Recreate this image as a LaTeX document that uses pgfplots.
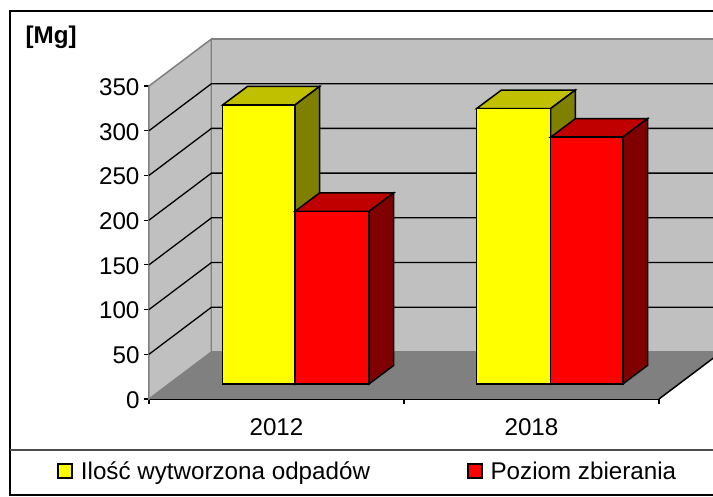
\documentclass[border=0pt]{standalone}
\usepackage{pgfplots}
\pgfplotsset{compat=1.18}
\usepackage{fontspec}
\setmainfont{Liberation Sans}
\definecolor{wall}{HTML}{C0C0C0}
\definecolor{floorgray}{HTML}{808080}
\definecolor{yfront}{HTML}{FFFF00}
\definecolor{ytop}{HTML}{C0C000}
\definecolor{yside}{HTML}{808000}
\definecolor{rfront}{HTML}{FF0000}
\definecolor{rtop}{HTML}{C00000}
\definecolor{rside}{HTML}{800000}
\newcommand{\chartfont}{\fontsize{24.2}{27}\selectfont}

\begin{document}
\begin{tikzpicture}[x=1pt,y=1pt]
\useasboundingbox (0,0) rectangle (713,497);
\clip (0,0) rectangle (713,497);
% frame and legend strip
\draw[line width=1.5pt] (10,2) rectangle (730,486);
\draw[line width=1.2pt,black!70] (10,47) -- (730,47);
\begin{axis}[
    at={(149pt,98pt)}, anchor=south west,
    scale only axis, width=510pt, height=313pt,
    xmin=0, xmax=2, ymin=0, ymax=350,
    clip=false,
    axis x line=bottom, axis y line=left,
    axis line style={-, line width=1.5pt},
    tick align=outside, major tick length=5pt,
    tick style={black, line width=1.2pt},
    ytick={0,50,...,350},
    xtick={0,1,2}, xticklabels={},
    extra x ticks={0.5,1.5}, extra x tick labels={2012,2018},
    extra x tick style={major tick length=0pt, xticklabel style={yshift=-16pt}},
    yticklabel style={yshift=-1pt, xshift=-1pt},
    tick label style={font=\chartfont},
    /pgf/number format/assume math mode=true,
    ylabel={\textbf{[Mg]}},
    ylabel style={rotate=-90, at={(axis description cs:-0.192,1.155)}, anchor=center, font=\chartfont},
    legend style={at={(axis description cs:-0.18,-0.23)}, anchor=west, draw=none, fill=none,
        legend columns=2, font=\chartfont, inner sep=0pt,
        /tikz/every odd column/.append style={column sep=6pt},
        /tikz/every even column/.append style={column sep=95pt}},
    legend image code/.code={\draw[#1,line width=1.5pt] (0pt,-7pt) rectangle (14pt,7pt);},
]
% walls and floor
\addplot[forget plot, draw=floorgray, line width=1.5pt, fill=wall] coordinates {(0,0) (0.245,52.6) (0.245,402.6) (0,350)} -- cycle;
\addplot[forget plot, draw=floorgray, line width=1.5pt, fill=wall] coordinates {(0.245,52.6) (0.245,402.6) (2.4,402.6) (2.4,52.6)} -- cycle;
\addplot[forget plot, draw=none, fill=floorgray] coordinates {(0,0) (0.245,52.6) (2.245,52.6) (2,0)} -- cycle;
\addplot[forget plot, black, line width=1.5pt] coordinates {(2,0) (2.245,52.6)};
% gridlines: left wall and back wall
\addplot[forget plot, black, line width=1.3pt] coordinates {(0,50) (0.245,102.6) (2.4,102.6)};
\addplot[forget plot, black, line width=1.3pt] coordinates {(0,100) (0.245,152.6) (2.4,152.6)};
\addplot[forget plot, black, line width=1.3pt] coordinates {(0,150) (0.245,202.6) (2.4,202.6)};
\addplot[forget plot, black, line width=1.3pt] coordinates {(0,200) (0.245,252.6) (2.4,252.6)};
\addplot[forget plot, black, line width=1.3pt] coordinates {(0,250) (0.245,302.6) (2.4,302.6)};
\addplot[forget plot, black, line width=1.3pt] coordinates {(0,300) (0.245,352.6) (2.4,352.6)};
% 2012 yellow
\addplot[forget plot, draw=black, line width=1.5pt, fill=ytop] coordinates {(0.289,328.8) (0.386,349.5) (0.669,349.5) (0.5725,328.8)} -- cycle;
\addplot[forget plot, draw=black, line width=1.5pt, fill=yside] coordinates {(0.5725,16.8) (0.669,37.5) (0.669,349.5) (0.5725,328.8)} -- cycle;
\addplot[draw=black, line width=1.5pt, fill=yfront] coordinates {(0.289,16.8) (0.289,328.8) (0.5725,328.8) (0.5725,16.8)} -- cycle;
\addlegendentry{Ilość wytworzona odpadów}
% 2012 red
\addplot[forget plot, draw=black, line width=1.5pt, fill=rtop] coordinates {(0.5725,209.8) (0.669,230.5) (0.9596,230.5) (0.8627,209.8)} -- cycle;
\addplot[forget plot, draw=black, line width=1.5pt, fill=rside] coordinates {(0.8627,16.8) (0.9596,37.5) (0.9596,230.5) (0.8627,209.8)} -- cycle;
\addplot[draw=black, line width=1.5pt, fill=rfront] coordinates {(0.5725,16.8) (0.5725,209.8) (0.8627,209.8) (0.8627,16.8)} -- cycle;
\addlegendentry{Poziom zbierania}
% 2018 yellow
\addplot[forget plot, draw=black, line width=1.5pt, fill=ytop] coordinates {(1.285,324.8) (1.382,345.5) (1.672,345.5) (1.575,324.8)} -- cycle;
\addplot[forget plot, draw=black, line width=1.5pt, fill=yside] coordinates {(1.575,16.8) (1.672,37.5) (1.672,345.5) (1.575,324.8)} -- cycle;
\addplot[forget plot, draw=black, line width=1.5pt, fill=yfront] coordinates {(1.285,16.8) (1.285,324.8) (1.575,324.8) (1.575,16.8)} -- cycle;
% 2018 red
\addplot[forget plot, draw=black, line width=1.5pt, fill=rtop] coordinates {(1.575,292.8) (1.672,313.5) (1.955,313.5) (1.858,292.8)} -- cycle;
\addplot[forget plot, draw=black, line width=1.5pt, fill=rside] coordinates {(1.858,16.8) (1.955,37.5) (1.955,313.5) (1.858,292.8)} -- cycle;
\addplot[forget plot, draw=black, line width=1.5pt, fill=rfront] coordinates {(1.575,16.8) (1.575,292.8) (1.858,292.8) (1.858,16.8)} -- cycle;
\end{axis}
\end{tikzpicture}
\end{document}
